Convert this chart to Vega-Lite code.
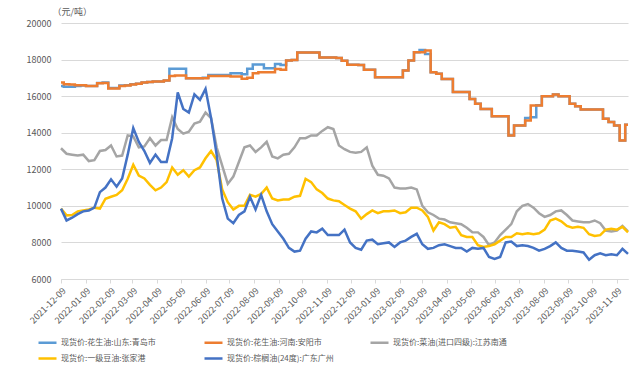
{
"$schema":"https://vega.github.io/schema/vega-lite/v6.json",
"width":567,"height":256,
"autosize":{"type":"none"},
"padding":{"left":61,"top":23,"right":9,"bottom":87},
"background":"white",
"config":{"view":{"stroke":null},"font":"Noto Sans CJK SC"},
"data":{"values":[
{"date":"2021-12-09","a":16550,"b":16750,"c":13150,"d":9850,"e":9850},
{"date":"2021-12-16","a":16520,"b":16650,"c":12850,"d":9480,"e":9200},
{"date":"2021-12-23","a":16520,"b":16630,"c":12800,"d":9500,"e":9350},
{"date":"2021-12-30","a":16550,"b":16600,"c":12750,"d":9700,"e":9550},
{"date":"2022-01-06","a":16580,"b":16600,"c":12800,"d":9750,"e":9700},
{"date":"2022-01-13","a":16550,"b":16550,"c":12450,"d":9800,"e":9750},
{"date":"2022-01-20","a":16550,"b":16550,"c":12500,"d":9900,"e":9900},
{"date":"2022-01-27","a":16720,"b":16700,"c":13000,"d":9850,"e":10750},
{"date":"2022-02-03","a":16750,"b":16720,"c":13050,"d":10390,"e":11000},
{"date":"2022-02-10","a":16450,"b":16420,"c":13300,"d":10500,"e":11450},
{"date":"2022-02-17","a":16450,"b":16420,"c":12700,"d":10600,"e":11050},
{"date":"2022-02-24","a":16580,"b":16550,"c":12750,"d":10850,"e":11500},
{"date":"2022-03-03","a":16600,"b":16580,"c":13850,"d":11480,"e":12800},
{"date":"2022-03-10","a":16650,"b":16630,"c":13800,"d":12250,"e":14250},
{"date":"2022-03-17","a":16680,"b":16680,"c":13200,"d":11650,"e":13500},
{"date":"2022-03-24","a":16750,"b":16750,"c":13250,"d":11500,"e":13000},
{"date":"2022-03-31","a":16780,"b":16770,"c":13700,"d":11150,"e":12350},
{"date":"2022-04-07","a":16800,"b":16800,"c":13300,"d":10850,"e":12800},
{"date":"2022-04-14","a":16800,"b":16800,"c":13600,"d":11000,"e":12400},
{"date":"2022-04-21","a":16850,"b":16850,"c":13600,"d":11300,"e":12400},
{"date":"2022-04-28","a":17500,"b":17100,"c":14850,"d":12100,"e":13700},
{"date":"2022-05-05","a":17500,"b":17130,"c":14200,"d":11700,"e":16200},
{"date":"2022-05-12","a":17500,"b":17130,"c":13950,"d":11950,"e":15300},
{"date":"2022-05-19","a":16980,"b":16980,"c":14050,"d":11600,"e":15100},
{"date":"2022-05-26","a":16980,"b":16980,"c":14500,"d":11950,"e":16100},
{"date":"2022-06-02","a":16980,"b":16980,"c":14600,"d":12100,"e":15800},
{"date":"2022-06-09","a":17000,"b":16980,"c":15100,"d":12600,"e":16400},
{"date":"2022-06-16","a":17150,"b":17100,"c":14800,"d":13000,"e":14800},
{"date":"2022-06-23","a":17150,"b":17100,"c":13200,"d":12500,"e":12800},
{"date":"2022-06-30","a":17150,"b":17100,"c":12200,"d":10900,"e":10400},
{"date":"2022-07-07","a":17150,"b":17100,"c":11200,"d":10200,"e":9300},
{"date":"2022-07-14","a":17250,"b":17080,"c":11600,"d":9800,"e":9050},
{"date":"2022-07-21","a":17250,"b":17080,"c":12400,"d":10000,"e":9500},
{"date":"2022-07-28","a":17200,"b":16950,"c":13200,"d":10000,"e":9700},
{"date":"2022-08-04","a":17500,"b":17000,"c":13300,"d":10600,"e":10500},
{"date":"2022-08-11","a":17730,"b":17250,"c":12950,"d":10500,"e":9800},
{"date":"2022-08-18","a":17730,"b":17300,"c":13200,"d":10650,"e":10600},
{"date":"2022-08-25","a":17530,"b":17300,"c":13500,"d":11000,"e":9700},
{"date":"2022-09-01","a":17530,"b":17300,"c":12700,"d":10400,"e":9000},
{"date":"2022-09-08","a":17760,"b":17480,"c":12600,"d":10300,"e":8600},
{"date":"2022-09-15","a":17700,"b":17450,"c":12800,"d":10350,"e":8200},
{"date":"2022-09-22","a":17950,"b":17950,"c":12850,"d":10350,"e":7700},
{"date":"2022-09-29","a":17980,"b":17980,"c":13200,"d":10500,"e":7500},
{"date":"2022-10-06","a":18380,"b":18380,"c":13700,"d":10550,"e":7550},
{"date":"2022-10-13","a":18380,"b":18380,"c":13700,"d":11480,"e":8200},
{"date":"2022-10-20","a":18380,"b":18380,"c":13850,"d":11300,"e":8600},
{"date":"2022-10-27","a":18380,"b":18380,"c":13850,"d":10900,"e":8550},
{"date":"2022-11-03","a":18110,"b":18110,"c":14100,"d":10700,"e":8750},
{"date":"2022-11-10","a":18110,"b":18110,"c":14300,"d":10400,"e":8400},
{"date":"2022-11-17","a":18110,"b":18110,"c":14200,"d":10300,"e":8400},
{"date":"2022-11-24","a":18080,"b":18080,"c":13300,"d":10250,"e":8400},
{"date":"2022-12-01","a":17940,"b":17940,"c":13100,"d":10050,"e":8700},
{"date":"2022-12-08","a":17710,"b":17710,"c":12950,"d":9850,"e":8000},
{"date":"2022-12-15","a":17710,"b":17710,"c":12900,"d":9700,"e":7700},
{"date":"2022-12-22","a":17700,"b":17700,"c":12950,"d":9300,"e":7600},
{"date":"2022-12-29","a":17450,"b":17450,"c":13200,"d":9550,"e":8100},
{"date":"2023-01-05","a":17450,"b":17450,"c":12200,"d":9750,"e":8150},
{"date":"2023-01-12","a":17040,"b":17040,"c":11700,"d":9600,"e":7900},
{"date":"2023-01-19","a":17040,"b":17040,"c":11650,"d":9700,"e":7950},
{"date":"2023-01-26","a":17040,"b":17040,"c":11500,"d":9700,"e":8000},
{"date":"2023-02-02","a":17040,"b":17040,"c":11000,"d":9750,"e":7750},
{"date":"2023-02-09","a":17040,"b":17040,"c":10950,"d":9600,"e":8000},
{"date":"2023-02-16","a":17400,"b":17400,"c":10950,"d":9650,"e":8100},
{"date":"2023-02-23","a":17950,"b":17950,"c":11000,"d":9900,"e":8300},
{"date":"2023-03-02","a":18400,"b":18400,"c":10900,"d":9900,"e":8470},
{"date":"2023-03-09","a":18530,"b":18400,"c":10000,"d":9750,"e":7900},
{"date":"2023-03-16","a":18300,"b":18490,"c":9650,"d":9400,"e":7650},
{"date":"2023-03-23","a":17300,"b":17300,"c":9500,"d":8650,"e":7700},
{"date":"2023-03-30","a":17220,"b":17220,"c":9300,"d":9100,"e":7850},
{"date":"2023-04-06","a":16940,"b":16940,"c":9250,"d":9000,"e":7900},
{"date":"2023-04-13","a":16940,"b":16940,"c":9100,"d":8800,"e":7800},
{"date":"2023-04-20","a":16220,"b":16220,"c":9050,"d":8850,"e":7700},
{"date":"2023-04-27","a":16220,"b":16220,"c":9000,"d":8400,"e":7700},
{"date":"2023-05-04","a":16220,"b":16220,"c":8800,"d":8300,"e":7500},
{"date":"2023-05-11","a":15850,"b":15850,"c":8560,"d":8300,"e":7700},
{"date":"2023-05-18","a":15580,"b":15580,"c":8550,"d":7850,"e":7650},
{"date":"2023-05-25","a":15300,"b":15300,"c":8300,"d":7750,"e":7700},
{"date":"2023-06-01","a":15300,"b":15300,"c":7850,"d":7800,"e":7200},
{"date":"2023-06-08","a":14900,"b":14900,"c":8000,"d":7900,"e":7100},
{"date":"2023-06-15","a":14900,"b":14900,"c":8400,"d":8100,"e":7200},
{"date":"2023-06-22","a":14900,"b":14900,"c":8700,"d":8300,"e":8000},
{"date":"2023-06-29","a":13850,"b":13850,"c":9000,"d":8300,"e":8050},
{"date":"2023-07-06","a":14400,"b":14400,"c":9700,"d":8500,"e":7800},
{"date":"2023-07-13","a":14400,"b":14400,"c":10000,"d":8450,"e":7850},
{"date":"2023-07-20","a":14800,"b":14670,"c":10100,"d":8500,"e":7800},
{"date":"2023-07-27","a":14850,"b":15490,"c":9900,"d":8450,"e":7700},
{"date":"2023-08-03","a":15500,"b":15490,"c":9600,"d":8500,"e":7550},
{"date":"2023-08-10","a":16000,"b":16000,"c":9400,"d":8700,"e":7650},
{"date":"2023-08-17","a":16000,"b":16000,"c":9500,"d":9200,"e":7800},
{"date":"2023-08-24","a":16090,"b":16090,"c":9700,"d":9300,"e":8000},
{"date":"2023-08-31","a":16000,"b":16000,"c":9750,"d":9150,"e":7700},
{"date":"2023-09-07","a":16000,"b":16000,"c":9500,"d":8900,"e":7550},
{"date":"2023-09-14","a":15580,"b":15580,"c":9200,"d":8800,"e":7550},
{"date":"2023-09-21","a":15450,"b":15450,"c":9150,"d":8850,"e":7500},
{"date":"2023-09-28","a":15270,"b":15270,"c":9100,"d":8800,"e":7450},
{"date":"2023-10-05","a":15270,"b":15270,"c":9100,"d":8450,"e":7050},
{"date":"2023-10-12","a":15270,"b":15270,"c":9200,"d":8350,"e":7300},
{"date":"2023-10-19","a":15270,"b":15270,"c":9050,"d":8400,"e":7400},
{"date":"2023-10-26","a":14760,"b":14760,"c":8650,"d":8700,"e":7300},
{"date":"2023-11-02","a":14580,"b":14580,"c":8600,"d":8750,"e":7350},
{"date":"2023-11-09","a":14400,"b":14400,"c":8650,"d":8700,"e":7300},
{"date":"2023-11-16","a":13580,"b":13580,"c":8900,"d":8850,"e":7650},
{"date":"2023-11-23","a":14430,"b":14430,"c":8600,"d":8550,"e":7370}
]},
"transform":[{"fold":["a","b","c","d","e"],"as":["series","price"]}],
"encoding":{
"x":{"field":"date","type":"temporal",
"scale":{"type":"utc","domain":[{"year":2021,"month":12,"date":9,"utc":true},{"year":2023,"month":11,"date":23,"utc":true}]},
"axis":{"title":null,"labelExpr":"utcFormat(datum.value, '%Y-%m-%d')","labelAngle":-45,"labelFontSize":9,"labelColor":"#595959","tickColor":"#D9D9D9","tickSize":4,"domainColor":"#D9D9D9","grid":false,"labelPadding":3,"labelOverlap":false,"labelFlush":false,"labelBound":false,
"values":[{"year":2021,"month":12,"date":9,"utc":true},{"year":2022,"month":1,"date":9,"utc":true},{"year":2022,"month":2,"date":9,"utc":true},{"year":2022,"month":3,"date":9,"utc":true},{"year":2022,"month":4,"date":9,"utc":true},{"year":2022,"month":5,"date":9,"utc":true},{"year":2022,"month":6,"date":9,"utc":true},{"year":2022,"month":7,"date":9,"utc":true},{"year":2022,"month":8,"date":9,"utc":true},{"year":2022,"month":9,"date":9,"utc":true},{"year":2022,"month":10,"date":9,"utc":true},{"year":2022,"month":11,"date":9,"utc":true},{"year":2022,"month":12,"date":9,"utc":true},{"year":2023,"month":1,"date":9,"utc":true},{"year":2023,"month":2,"date":9,"utc":true},{"year":2023,"month":3,"date":9,"utc":true},{"year":2023,"month":4,"date":9,"utc":true},{"year":2023,"month":5,"date":9,"utc":true},{"year":2023,"month":6,"date":9,"utc":true},{"year":2023,"month":7,"date":9,"utc":true},{"year":2023,"month":8,"date":9,"utc":true},{"year":2023,"month":9,"date":9,"utc":true},{"year":2023,"month":10,"date":9,"utc":true},{"year":2023,"month":11,"date":9,"utc":true}]}},
"y":{"field":"price","type":"quantitative","scale":{"domain":[6000,20000],"nice":false,"zero":false},
"axis":{"values":[6000,8000,10000,12000,14000,16000,18000,20000],"format":"d","title":"（元/吨）","titleAngle":0,"titleAlign":"left","titleBaseline":"alphabetic","titleX":-9,"titleY":-9,"titleFontSize":9,"titleFontWeight":"normal","titleColor":"#595959","labelFontSize":9,"labelColor":"#595959","ticks":false,"domain":false,"labelPadding":10,"gridColor":"#D9D9D9","gridWidth":1}},
"color":{"field":"series","type":"nominal",
"scale":{"domain":["a","b","c","d","e"],"range":["#5B9BD5","#ED7D31","#A5A5A5","#FFC000","#4472C4"]},
"legend":{"title":null,"orient":"none","legendX":-24,"legendY":309,"direction":"horizontal","columns":3,"gridAlign":"all","columnPadding":24,"rowPadding":-5,"symbolType":"stroke","symbolSize":324,"symbolStrokeWidth":2.5,"labelFontSize":8,"labelColor":"#595959","labelOffset":3,"labelLimit":0,
"labelExpr":"datum.label=='a'?'现货价:花生油:山东:青岛市':datum.label=='b'?'现货价:花生油:河南:安阳市':datum.label=='c'?'现货价:菜油(进口四级):江苏南通':datum.label=='d'?'现货价:一级豆油:张家港':'现货价:棕榈油(24度):广东广州'"}}
},
"layer":[
{"transform":[{"filter":"datum.series=='a'||datum.series=='b'"}],"mark":{"type":"line","interpolate":"step","strokeWidth":2.5}},
{"transform":[{"filter":"datum.series!='a'&&datum.series!='b'"}],"mark":{"type":"line","strokeWidth":2.5}}
]
}
